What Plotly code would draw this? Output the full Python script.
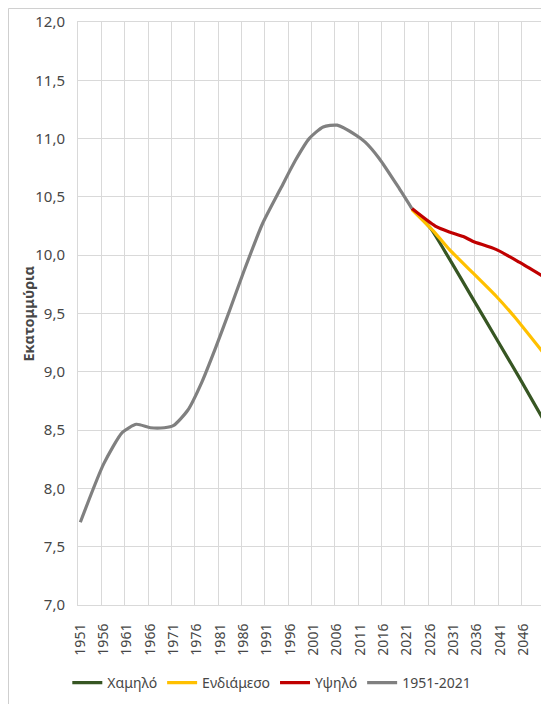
import plotly.graph_objects as go

# Historical population (millions)
hist_years = [1951, 1956, 1960, 1963, 1966, 1969, 1971, 1974, 1977, 1980, 1983, 1986,
              1990, 1994, 1997, 2000, 2003, 2006, 2010, 2012, 2015, 2019, 2022]
hist_vals = [7.71, 8.21, 8.48, 8.55, 8.52, 8.52, 8.54, 8.67, 8.91, 9.21, 9.53, 9.86,
             10.27, 10.58, 10.81, 11.00, 11.10, 11.115, 11.03, 10.97, 10.83, 10.59, 10.40]

# Projection scenarios
low_years = [2022, 2026, 2030, 2035, 2040, 2045, 2050]
low_vals = [10.40, 10.23, 9.97, 9.63, 9.29, 8.95, 8.60]

mid_years = [2022, 2027, 2030, 2035, 2040, 2044, 2050]
mid_vals = [10.39, 10.19, 10.05, 9.85, 9.65, 9.47, 9.17]

high_years = [2022, 2027, 2030, 2033, 2035, 2040, 2045, 2050]
high_vals = [10.40, 10.25, 10.20, 10.16, 10.12, 10.05, 9.94, 9.82]

tick_years = list(range(1951, 2047, 5))
tick_labels = [str(y) for y in tick_years]

names = ["Χαμηλό", "Ενδιάμεσο", "Υψηλό", "1951-2021"]
colors = ["#375623", "#FFC000", "#C00000", "#808080"]

fig = go.Figure()
series = [(low_years, low_vals), (mid_years, mid_vals), (high_years, high_vals),
          (hist_years, hist_vals)]
for (xs, ys), name, col in zip(series, names, colors):
    fig.add_trace(go.Scatter(x=xs, y=ys, mode="lines", name=name,
                             line=dict(color=col, width=3.2, shape="spline", smoothing=0.6)))

grid = "#D9D9D9"
font_col = "#474747"
fam = "Noto Sans"
fig.update_layout(
    width=549, height=704, autosize=False,
    margin=dict(l=70, r=12, t=14, b=107, autoexpand=False),
    paper_bgcolor="white", plot_bgcolor="white",
    separators=",.",
    font=dict(family=fam, size=14, color=font_col),
    showlegend=True,
    legend=dict(orientation="h", x=0.415, xanchor="center", y=-0.134, yanchor="middle",
                font=dict(family=fam, size=14, color=font_col),
                itemwidth=30, traceorder="normal"),
    xaxis=dict(range=[1950.5, 2050.5], automargin=False,
               tickvals=[y - 0.5 for y in tick_years], ticktext=tick_labels,
               ticklabelshift=2, tickangle=-90, ticklabelstandoff=12,
               showgrid=True, gridcolor=grid, gridwidth=1,
               showline=True, linecolor=grid, linewidth=1, mirror=True,
               zeroline=False, ticks="",
               tickfont=dict(family=fam, size=14, color=font_col)),
    yaxis=dict(range=[7, 12], dtick=0.5, tick0=7, tickformat=".1f", automargin=False,
               showgrid=True, gridcolor=grid, gridwidth=1,
               showline=True, linecolor=grid, linewidth=1, mirror=True,
               zeroline=False, ticks="", ticklabelstandoff=9,
               tickfont=dict(family=fam, size=15, color=font_col)),
    annotations=[dict(text="<b>Εκατομμύρια</b>", x=-0.109, y=0.5, xref="paper", yref="paper",
                      textangle=-90, showarrow=False, xanchor="center", yanchor="middle",
                      font=dict(family=fam, size=14.5, color=font_col))],
    shapes=[dict(type="rect", xref="paper", yref="paper", x0=-0.1488, y0=-1.0,
                 x1=2.0, y1=1.0232, line=dict(color="#CFCFCF", width=1), layer="above")],
)

fig.write_html("out.html")
